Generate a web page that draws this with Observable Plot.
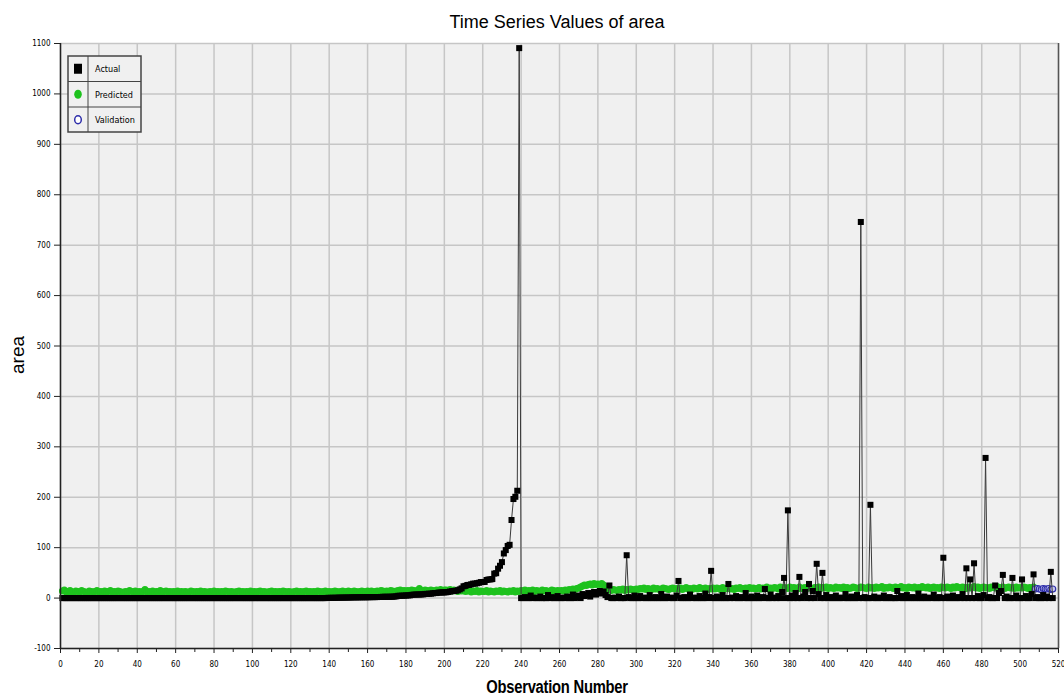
<!DOCTYPE html>
<html>
<head>
<meta charset="utf-8">
<script src="https://cdn.jsdelivr.net/npm/d3@7"></script>
<script src="https://cdn.jsdelivr.net/npm/@observablehq/plot@0.6"></script>
<style>
  html, body { margin: 0; padding: 0; background: #fff; }
  #wrap { position: relative; width: 1064px; height: 700px; font-family: "Liberation Sans", Arial, sans-serif; }
  #title { height: 36px; line-height: 44px; text-align: center; font-size: 18px; color: #000; padding-left: 50px; box-sizing: border-box; }
  #ylab { position: absolute; left: 18px; top: 355px; transform: translate(-50%, -50%) rotate(-90deg); font-size: 19px; color: #000; }
  #xlab { position: absolute; left: 557px; top: 677px; transform: translateX(-50%) scaleX(0.82); white-space: nowrap; font-size: 18px; font-weight: bold; color: #000; font-family: "Liberation Sans", Arial, sans-serif; letter-spacing: -0.3px; }
  #legend { position: absolute; left: 67px; top: 55px; }
</style>
</head>
<body>
<div id="wrap">
  <div id="title">Time Series Values of area</div>
  <div id="chart"></div>
  <div id="ylab">area</div>
  <div id="xlab">Observation Number</div>
  <svg id="legend" width="76" height="80"></svg>
</div>
<script>
// ---- Data ----
// Observation numbers start at 1.
const actualZeros = [
0,0,0,0,0,0,0,0,0,0,0,0,0,0,0,0,0,0,0,0,
0,0,0,0,0,0,0,0,0,0,0,0,0,0,0,0,0,0,0,0,
0,0,0,0,0,0,0,0,0,0,0,0,0,0,0,0,0,0,0,0,
0,0,0,0,0,0,0,0,0,0,0,0,0,0,0,0,0,0,0,0,
0,0,0,0,0,0,0,0,0,0,0,0,0,0,0,0,0,0,0,0,
0,0,0,0,0,0,0,0,0,0,0,0,0,0,0,0,0,0,0,0,
0,0,0,0,0,0,0,0,0,0,0,0,0,0,0,0,0,0
]; // obs 1-138
const actualRising = [
0.36,0.43,0.47,0.55,0.61,0.71,0.77,0.9,0.95,0.96,
1.07,1.12,1.19,1.36,1.43,1.46,1.46,1.56,1.61,1.63,
1.64,1.69,1.75,1.9,1.94,1.95,2.01,2.14,2.29,2.51,
2.53,2.55,2.57,2.69,2.74,3.07,3.5,4.53,4.61,4.69,
4.88,5.23,5.33,5.44,6.38,6.83,6.96,7.04,7.19,7.3,
7.4,8.24,8.31,8.68,8.71,9.41,10.01,10.02,10.93,11.06,
11.24,11.32,11.53,12.1,13.05,13.7,13.99,14.57,15.45,17.2,
19.23,23.41,24.23,26,26.13,27.35,28.66,28.66,29.48,30.32,
31.72,31.86,32.07,35.88,36.85,37.02,37.71,48.55,49.37,58.3,
64.1,71.3,88.49,95.18,103.39,105.66,154.88,196.48,200.94,212.88,
1090.84
]; // obs 139-239
const actualLater = [
0,0,2,0,0,5,0,1,0,0,3,0,0,0,6,0,2,0,0,4,
0,0,1,0,3,0,0,7,0,2,5,0,8,4,6,10,3,9,12,7,
11,14,9,13,6,2,25,0,0,1,0,3,0,0,0,85,2,0,0,5,
0,0,4,0,1,0,0,6,0,0,2,0,0,8,0,0,3,0,1,0,
0,5,34,0,0,2,0,0,7,0,1,0,0,4,0,0,9,0,2,54,
0,0,3,0,0,6,0,0,28,0,1,0,4,0,0,2,0,10,0,0,
3,0,0,5,0,0,2,18,0,0,7,0,1,0,4,0,12,40,0,174,
0,5,0,10,0,42,0,3,12,0,28,0,14,0,68,8,0,50,0,6,
0,2,0,0,5,0,0,1,0,8,0,0,3,0,0,6,0,746,0,2,
0,0,185,0,3,0,0,1,0,5,0,0,2,0,0,0,14,0,4,0,
0,6,0,0,2,0,0,9,0,0,3,0,0,1,0,7,0,0,2,0,
80,0,3,0,0,5,0,0,2,0,8,0,59,0,37,0,69,0,4,0,
0,6,278,0,2,0,0,25,0,10,14,46,0,3,0,0,40,0,5,0,
0,37,0,4,0,0,8,47,0,2,0,0,6,0,3,0,52,0
]; // obs 240-517

const predictedValues = [
14,16,12,13,15,11,12,14,13,12,15,13,12,11,14,13,12,13,15,12,
13,12,14,12,13,15,12,13,12,14,13,11,12,13,12,15,13,12,14,12,
13,12,13,17,12,13,12,14,12,13,12,15,12,13,14,12,13,12,13,12,
14,12,13,12,13,12,12,14,13,12,13,12,14,12,13,12,12,13,12,14,
12,13,12,13,12,14,13,12,13,12,12,13,14,12,13,12,13,12,14,12,
13,12,13,14,12,13,12,12,13,14,12,13,12,13,12,14,13,12,13,12,
12,13,14,12,13,12,13,14,12,13,12,13,12,14,13,12,13,14,12,13,
12,13,14,13,12,13,14,12,13,14,13,12,14,13,12,13,14,13,12,14,
13,14,12,13,14,13,15,14,13,14,13,15,14,13,14,15,16,14,15,14,
15,14,16,15,14,15,19,15,14,16,15,14,16,15,14,16,15,17,14,16,
16,15,17,14,16,15,13,16,14,15,13,14,15,12,14,13,15,12,14,13,
13,15,12,14,13,12,14,13,15,12,14,13,12,14,13,15,12,14,13,15,
14,16,13,15,14,16,13,15,14,13,16,14,15,13,14,16,15,13,15,14,
15,14,16,15,17,16,18,17,19,20,22,24,26,25,27,28,26,29,27,28,
27,29,26,22,18,16,15,17,16,15,17,16,18,15,17,16,18,17,16,18,
17,19,18,20,17,19,18,17,20,18,19,17,18,20,19,18,17,19,20,18,
19,18,20,17,19,21,18,19,17,20,19,18,21,19,18,20,17,19,18,20,
18,20,19,17,21,18,19,20,18,19,17,20,19,21,18,19,20,18,21,19,
20,18,19,21,18,20,19,22,18,20,19,21,20,18,22,19,21,20,19,22,
19,21,20,18,22,19,20,21,19,22,20,19,21,20,22,19,21,20,22,19,
21,20,19,22,20,21,19,22,20,21,19,20,22,21,19,20,22,21,20,19,
22,20,21,19,22,20,21,23,19,21,20,22,21,19,22,20,21,23,20,21,
19,22,21,20,22,19,21,20,23,21,20,22,19,21,22,20,21,19,22,21,
20,22,21,19,22,20,23,21,20,22,21,19,22,20,21,23,20,22,19,21,
22,20,21,19,22,21,20,23,21,20,22,19,21,22,20,21,19,22,20,21,
20,22,21,19,21,20,22
]; // obs 1-507
const validationStart = 508;
const validationValues = [18,19,18,17,19,18,18,19,17,18]; // obs 508-517

const xTicks = [0,20,40,60,80,100,120,140,160,180,200,220,240,260,280,300,320,340,360,380,400,420,440,460,480,500,520];
const xMinorTicks = [10,30,50,70,90,110,130,150,170,190,210,230,250,270,290,310,330,350,370,390,410,430,450,470,490,510];
const yTicks = [-100,0,100,200,300,400,500,600,700,800,900,1000,1100];

// ---- Tables ----
const actualAll = [...actualZeros, ...actualRising, ...actualLater];
const actual = actualAll.map((v, i) => ({obs: i + 1, value: v}));
const predicted = predictedValues.map((v, i) => ({obs: i + 1, value: v}));
const validation = validationValues.map((v, i) => ({obs: validationStart + i, value: v}));

const green = "#1ec21e";
const blue = "#2e2eaa";
const tickFont = '"Liberation Sans Narrow", "DejaVu Sans Condensed", Arial, sans-serif';

const chart = Plot.plot({
  width: 1064,
  height: 664,
  marginTop: 7,
  marginBottom: 52,
  marginLeft: 60,
  marginRight: 6,
  style: {fontFamily: tickFont, fontSize: "8px", background: "#fff", color: "#000"},
  x: {domain: [0, 520], label: null},
  y: {domain: [-100, 1100], label: null},
  marks: [
    Plot.frame({fill: "#f0f0f0", stroke: null}),
    Plot.gridX(xTicks, {stroke: "#c6c6c6", strokeOpacity: 1, strokeWidth: 1.5}),
    Plot.gridY(yTicks, {stroke: "#c6c6c6", strokeOpacity: 1, strokeWidth: 1.5}),
    Plot.line(predicted, {x: "obs", y: "value", stroke: green, strokeWidth: 2.5}),
    Plot.dot(predicted, {x: "obs", y: "value", r: 3.5, fill: green, stroke: null}),
    Plot.line(validation, {x: "obs", y: "value", stroke: blue, strokeWidth: 1}),
    Plot.dot(validation, {x: "obs", y: "value", r: 3, fill: "#c8c8f0", stroke: blue, strokeWidth: 1.2}),
    Plot.line(actual, {x: "obs", y: "value", stroke: "#3a3a3a", strokeWidth: 1}),
    Plot.dot(actual, {x: "obs", y: "value", symbol: "square", r: 3.4, fill: "#000", stroke: null}),
    Plot.ruleX([520], {stroke: "#555", strokeWidth: 1.5}),
    Plot.ruleX([0], {stroke: "#222", strokeWidth: 1.5}),
    Plot.ruleY([-100], {stroke: "#222", strokeWidth: 1.5}),
    Plot.axisX({ticks: xTicks, tickSize: 5, tickPadding: 8, tickFormat: d => String(d), stroke: "#222"}),
    Plot.axisX({ticks: xMinorTicks, tickSize: 4, tickFormat: () => "", stroke: "#222"}),
    Plot.axisY({ticks: yTicks, tickSize: 6, tickPadding: 4, tickFormat: d => String(d), stroke: "#222"})
  ]
});
document.getElementById("chart").appendChild(chart);

// ---- Legend ----
const lg = d3.select("#legend");
const rowH = 25.5;
lg.append("rect").attr("x", 1).attr("y", 1).attr("width", 73).attr("height", 76)
  .attr("fill", "#f0f0f0").attr("stroke", "#444").attr("stroke-width", 1.5);
lg.append("line").attr("x1", 21).attr("x2", 21).attr("y1", 1).attr("y2", 77).attr("stroke", "#444");
[1, 2].forEach(i => lg.append("line").attr("x1", 1).attr("x2", 74).attr("y1", 1 + i * rowH).attr("y2", 1 + i * rowH).attr("stroke", "#444"));
const names = ["Actual", "Predicted", "Validation"];
names.forEach((n, i) => {
  lg.append("text").attr("x", 28).attr("y", 1 + rowH * i + rowH / 2 + 3.5)
    .attr("font-size", "9px").attr("font-family", tickFont).text(n);
});
lg.append("rect").attr("x", 7).attr("y", 1 + rowH / 2 - 5).attr("width", 8).attr("height", 10).attr("fill", "#000");
lg.append("ellipse").attr("cx", 11).attr("cy", 1 + rowH * 1.5).attr("rx", 3.8).attr("ry", 4.5).attr("fill", green);
lg.append("ellipse").attr("cx", 11).attr("cy", 1 + rowH * 2.5).attr("rx", 3.3).attr("ry", 4).attr("fill", "#fff").attr("stroke", blue).attr("stroke-width", 1.5);
</script>
</body>
</html>
